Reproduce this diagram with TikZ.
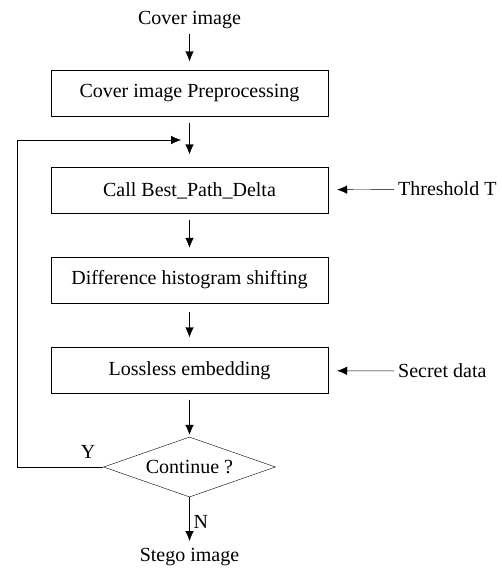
\documentclass[tikz,border=0pt]{standalone}
\usepackage{fontspec}
\setmainfont{Liberation Serif}
\usetikzlibrary{shapes.geometric, arrows.meta}
\tikzset{
x=1pt, y=-1pt, % one unit is one pixel of the reference, y runs down
font=\fontsize{20}{24}\selectfont,
line width=1.2pt,
every node/.style={inner sep=2pt},
block/.style={draw, minimum width=277pt, minimum height=46pt}, % the process boxes
test/.style={draw, diamond, aspect=2.87, inner sep=0pt, minimum width=172pt, minimum height=60pt}, % the decision
tip/.style={-{Latex[length=10pt,width=8.5pt]}},
flow/.style={tip, shorten >=9pt, shorten <=6pt}, % arrows between steps
}

\begin{document}
\begin{tikzpicture}
\useasboundingbox (0,0) rectangle (502,568);

\node at (189.5,20) (cover) {Cover image};
\node[block] at (189.5,93.5) (prep) {Cover image Preprocessing};
\node[block] at (189.5,190.5) (best) {Call Best\_Path\_Delta};
\node[block] at (189.5,280) (shift) {Difference histogram shifting};
\node[block] at (189.5,370.5) (embed) {Lossless embedding};
\node[test] at (189.5,467) (cont) {Continue ?};
\node at (189.5,557) (stego) {Stego image};

\node[anchor=west] at (396,189) (thr) {Threshold T};
\node[anchor=west] at (396,371) (secret) {Secret data};

\coordinate (back) at (181,140);

\draw[flow, shorten <=3pt] (cover) -- (prep);
\draw[flow, shorten >=13pt] (prep) -- (best);
\draw[flow] (best) -- (shift);
\draw[flow, shorten >=10pt, shorten <=9pt] (shift) -- (embed);
\draw[flow, shorten >=2pt] (embed) -- (cont);
\draw[flow, shorten <=0pt, shorten >=5pt] (cont) -- node[right, xshift=2pt] (no) {N} (stego);

\draw[flow, shorten <=2pt] (thr) -- (best);
\draw[flow, shorten <=2pt] (secret) -- (embed);

\draw[tip] (cont.west) -- (17,467) |- (back);
\node at (88,452) (yes) {Y};

\end{tikzpicture}
\end{document}
